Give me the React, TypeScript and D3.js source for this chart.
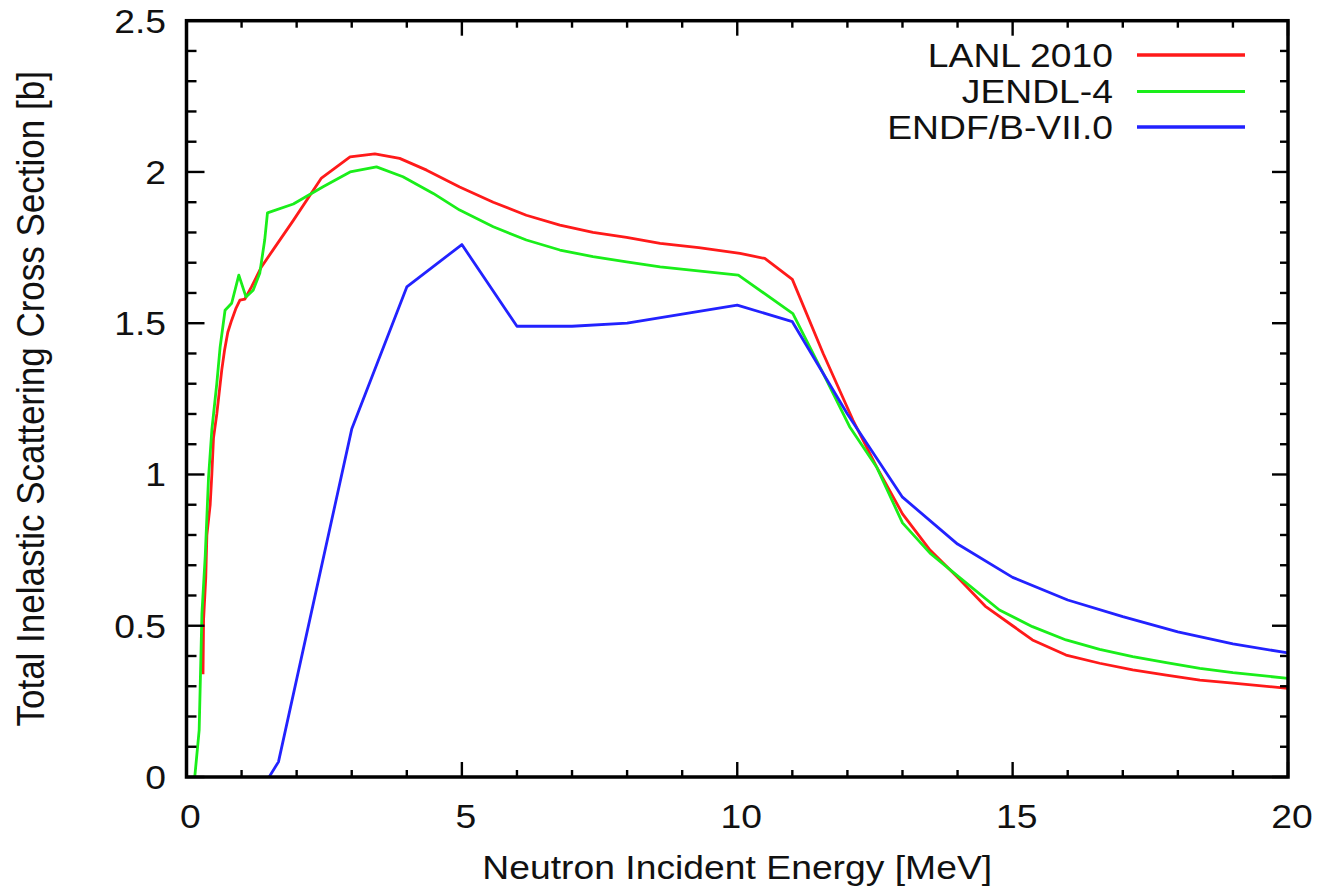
import React from "react";
import * as d3 from "d3";

const lanlE = [0.30, 0.31, 0.35, 0.37, 0.43, 0.46, 0.49, 0.55, 0.64, 0.69, 0.75, 0.82, 0.90, 0.97, 1.06, 1.18, 1.36, 1.6, 1.94, 2.45, 2.97, 3.42, 3.87, 4.36, 4.96, 5.57, 6.17, 6.78, 7.38, 7.99, 8.6, 9.3, 10.05, 10.5, 11.0, 11.56, 12.1, 12.53, 13.0, 13.5, 14.0, 14.5, 15.0, 15.36, 15.97, 16.58, 17.18, 17.79, 18.4, 19.0, 20.0];
const lanlV = [0.34, 0.52, 0.66, 0.80, 0.90, 1.0, 1.12, 1.20, 1.345, 1.41, 1.47, 1.51, 1.55, 1.576, 1.58, 1.62, 1.686, 1.75, 1.84, 1.98, 2.05, 2.06, 2.045, 2.006, 1.95, 1.90, 1.857, 1.824, 1.80, 1.784, 1.764, 1.75, 1.731, 1.714, 1.645, 1.40, 1.18, 1.025, 0.87, 0.75, 0.66, 0.565, 0.50, 0.453, 0.403, 0.376, 0.354, 0.337, 0.32, 0.31, 0.293];

const jendlE = [0.15, 0.23, 0.28, 0.34, 0.40, 0.46, 0.55, 0.61, 0.70, 0.82, 0.95, 1.08, 1.21, 1.33, 1.42, 1.47, 1.94, 2.48, 2.97, 3.45, 3.93, 4.48, 4.96, 5.57, 6.17, 6.78, 7.38, 7.99, 8.6, 10.02, 11.01, 11.56, 12.04, 12.53, 13.0, 13.5, 14.0, 14.76, 15.36, 15.97, 16.58, 17.18, 17.79, 18.4, 19.0, 20.0];
const jendlV = [0.0, 0.155, 0.54, 0.73, 0.99, 1.147, 1.30, 1.42, 1.543, 1.566, 1.659, 1.587, 1.609, 1.665, 1.775, 1.865, 1.894, 1.951, 2.0, 2.017, 1.984, 1.929, 1.874, 1.819, 1.775, 1.742, 1.72, 1.703, 1.686, 1.659, 1.532, 1.334, 1.158, 1.025, 0.84, 0.74, 0.665, 0.552, 0.497, 0.453, 0.422, 0.398, 0.378, 0.359, 0.345, 0.326];

const endfE = [1.5, 1.67, 3.0, 4.0, 5.0, 6.0, 7.0, 8.0, 9.0, 10.0, 11.0, 12.0, 13.0, 14.0, 15.0, 16.0, 17.0, 18.0, 19.0, 20.0];
const endfV = [0.0, 0.05, 1.15, 1.62, 1.76, 1.49, 1.49, 1.5, 1.53, 1.56, 1.505, 1.2, 0.925, 0.77, 0.66, 0.585, 0.53, 0.48, 0.44, 0.41];

const seriesNames = ["LANL 2010", "JENDL-4", "ENDF/B-VII.0"];
const seriesColors = ["#ff1a1a", "#1aee1a", "#2222ff"];
const xMajor = [0, 5, 10, 15, 20];
const yMajor = [0, 0.5, 1, 1.5, 2, 2.5];
const yTickLabels = ["0", "0.5", "1", "1.5", "2", "2.5"];

const W = 1320;
const H = 889;
const left = 186.5;
const right = 1288;
const top = 20.7;
const bottom = 777;
const FONT = "'Liberation Sans', Arial, Helvetica, sans-serif";
const SX = 1.13;

export default function App() {
  const x = d3.scaleLinear().domain([0, 20]).range([left, right]);
  const y = d3.scaleLinear().domain([0, 2.5]).range([bottom, top]);
  const line = d3
    .line<[number, number]>()
    .x((d) => x(d[0]))
    .y((d) => y(d[1]));

  const series = [
    lanlE.map((e, i) => [e, lanlV[i]] as [number, number]),
    jendlE.map((e, i) => [e, jendlV[i]] as [number, number]),
    endfE.map((e, i) => [e, endfV[i]] as [number, number]),
  ];

  const xMinor = d3.range(0, 21, 1).filter((v) => v % 5 !== 0);
  const yMinor = d3.range(0, 26, 1).map((v) => v / 10).filter((v) => Math.round(v * 10) % 5 !== 0);

  const legendY = [55, 91.5, 127];

  return (
    <svg
      width={W}
      height={H}
      style={{ position: "absolute", left: 0, top: 0, background: "#fff" }}
      fontFamily={FONT}
    >
      <rect x={0} y={0} width={W} height={H} fill="#fff" />
      <g clipPath="url(#clip)">
        <defs>
          <clipPath id="clip">
            <rect x={left} y={top} width={right - left} height={bottom - top} />
          </clipPath>
        </defs>
        {series.map((s, i) => (
          <path key={i} d={line(s) || ""} fill="none" stroke={seriesColors[i]} strokeWidth={2.8} strokeLinejoin="round" />
        ))}
      </g>

      {/* ticks */}
      <g stroke="#000" strokeWidth={2.4}>
        {xMajor.map((v) => (
          <g key={"xM" + v}>
            <line x1={x(v)} x2={x(v)} y1={bottom} y2={bottom - 15} />
            <line x1={x(v)} x2={x(v)} y1={top} y2={top + 15} />
          </g>
        ))}
        {xMinor.map((v) => (
          <g key={"xm" + v}>
            <line x1={x(v)} x2={x(v)} y1={bottom} y2={bottom - 7} />
            <line x1={x(v)} x2={x(v)} y1={top} y2={top + 7} />
          </g>
        ))}
        {yMajor.map((v) => (
          <g key={"yM" + v}>
            <line x1={left} x2={left + 18} y1={y(v)} y2={y(v)} />
            <line x1={right} x2={right - 16} y1={y(v)} y2={y(v)} />
          </g>
        ))}
        {yMinor.map((v) => (
          <g key={"ym" + v}>
            <line x1={left} x2={left + 10} y1={y(v)} y2={y(v)} />
            <line x1={right} x2={right - 8} y1={y(v)} y2={y(v)} />
          </g>
        ))}
      </g>
      <rect x={left} y={top} width={right - left} height={bottom - top} fill="none" stroke="#000" strokeWidth={3.5} />

      {/* tick labels */}
      <g fontSize={33} fill="#111">
        {xMajor.map((v) => (
          <text key={"xl" + v} transform={`translate(${x(v) + 4},${828}) scale(${SX},1)`} textAnchor="middle">
            {String(v)}
          </text>
        ))}
        {yMajor.map((v, i) => (
          <text key={"yl" + v} transform={`translate(${166},${y(v) + 12}) scale(${SX},1)`} textAnchor="end">
            {yTickLabels[i]}
          </text>
        ))}
      </g>

      {/* axis titles */}
      <text transform={`translate(${(left + right) / 2 + 0},${879}) scale(${SX},1)`} textAnchor="middle" fontSize={33} fill="#111">
        Neutron Incident Energy [MeV]
      </text>
      <text transform={`translate(${44},${(top + bottom) / 2}) rotate(-90) scale(1,1.1)`} textAnchor="middle" fontSize={35} fill="#111">
        Total Inelastic Scattering Cross Section [b]
      </text>

      {/* legend */}
      {seriesNames.map((n, i) => (
        <g key={n}>
          <text transform={`translate(${1113},${legendY[i] + 11.5}) scale(${SX},1)`} textAnchor="end" fontSize={33} fill="#111">
            {n}
          </text>
          <line x1={1137} x2={1245} y1={legendY[i]} y2={legendY[i]} stroke={seriesColors[i]} strokeWidth={i === 1 ? 2.8 : 3.6} />
        </g>
      ))}
    </svg>
  );
}
